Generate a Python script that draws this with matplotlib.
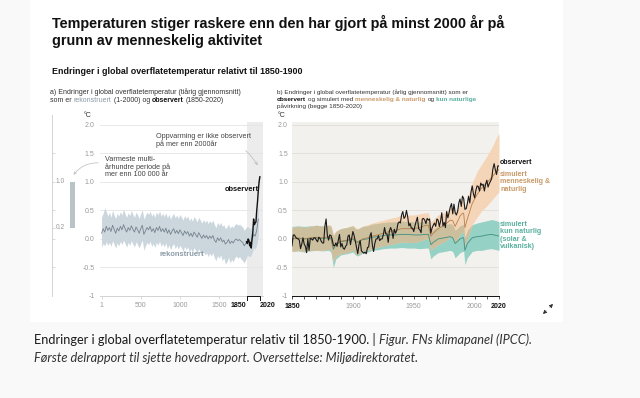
import matplotlib.pyplot as plt
from matplotlib.patches import Rectangle, FancyArrowPatch
import numpy as np

plt.rcParams['font.family'] = ['Liberation Sans', 'DejaVu Sans']

# ---------------- data ----------------
# panel a: reconstructed (20-year steps) + observed decadal
rec_years = np.arange(0, 2001, 20)
rec_mid = [0.10, 0.18, 0.12, 0.22, 0.15, 0.20, 0.13, 0.24, 0.17, 0.10,
           0.19, 0.14, 0.22, 0.16, 0.25, 0.18, 0.12, 0.20, 0.15, 0.23,
           0.17, 0.12, 0.21, 0.16, 0.10, 0.18, 0.24, 0.08, 0.14, 0.20,
           0.16, 0.22, 0.13, 0.18, 0.11, 0.20, 0.15, 0.22, 0.13, 0.18,
           0.12, 0.19, 0.10, 0.16, 0.08, 0.14, 0.18, 0.10, 0.15, 0.09,
           0.16, 0.11, 0.06, 0.14, 0.09, 0.13, 0.05, 0.10, 0.04, 0.12,
           0.08, 0.03, 0.11, 0.06, 0.01, 0.07, 0.02, 0.06, 0.00, 0.05,
           0.01, 0.06, -0.02, -0.06, 0.02, -0.03, 0.02, -0.05, -0.02, -0.09,
           -0.06, -0.01, -0.08, -0.04, -0.07, -0.02, 0.00, -0.03, -0.01, -0.04,
           -0.06, -0.12, -0.08, -0.03, -0.05, -0.08, -0.02, 0.08, 0.05, 0.15, 0.35]
rec_hi = [0.38, 0.45, 0.55, 0.48, 0.40, 0.47, 0.38, 0.50, 0.42, 0.36,
          0.45, 0.40, 0.48, 0.42, 0.52, 0.44, 0.38, 0.46, 0.41, 0.50,
          0.43, 0.38, 0.47, 0.42, 0.36, 0.45, 0.51, 0.35, 0.41, 0.47,
          0.43, 0.49, 0.40, 0.45, 0.38, 0.47, 0.42, 0.49, 0.40, 0.45,
          0.39, 0.46, 0.37, 0.43, 0.35, 0.41, 0.45, 0.37, 0.42, 0.36,
          0.43, 0.38, 0.33, 0.41, 0.36, 0.40, 0.32, 0.37, 0.31, 0.39,
          0.35, 0.30, 0.38, 0.33, 0.28, 0.34, 0.29, 0.33, 0.27, 0.32,
          0.28, 0.33, 0.25, 0.20, 0.29, 0.24, 0.29, 0.22, 0.25, 0.18,
          0.21, 0.26, 0.19, 0.23, 0.20, 0.25, 0.27, 0.24, 0.26, 0.23,
          0.21, 0.15, 0.19, 0.22, 0.20, 0.17, 0.23, 0.33, 0.30, 0.42, 0.60]
rec_lo = [-0.15, -0.08, -0.12, -0.05, -0.11, -0.06, -0.13, -0.03, -0.09, -0.16,
          -0.07, -0.12, -0.04, -0.10, -0.02, -0.08, -0.14, -0.06, -0.11, -0.03,
          -0.09, -0.14, -0.05, -0.10, -0.16, -0.08, -0.02, -0.20, -0.12, -0.06,
          -0.10, -0.04, -0.13, -0.08, -0.15, -0.06, -0.11, -0.04, -0.13, -0.08,
          -0.14, -0.07, -0.17, -0.10, -0.19, -0.12, -0.08, -0.17, -0.11, -0.18,
          -0.11, -0.16, -0.22, -0.13, -0.19, -0.14, -0.23, -0.17, -0.24, -0.15,
          -0.20, -0.26, -0.17, -0.23, -0.29, -0.22, -0.28, -0.24, -0.31, -0.25,
          -0.30, -0.24, -0.33, -0.38, -0.29, -0.34, -0.28, -0.38, -0.33, -0.44,
          -0.40, -0.32, -0.42, -0.36, -0.40, -0.33, -0.30, -0.34, -0.31, -0.35,
          -0.38, -0.42, -0.36, -0.29, -0.30, -0.31, -0.25, -0.15, -0.18, -0.10, 0.05]
obs_dec_years = [1850, 1860, 1870, 1880, 1890, 1900, 1910, 1920, 1930, 1940,
                 1950, 1960, 1970, 1980, 1990, 2000, 2010, 2020]
obs_dec = [-0.05, -0.08, 0.0, -0.02, -0.12, -0.06, -0.16, 0.0, 0.12, 0.35,
           0.25, 0.28, 0.30, 0.50, 0.65, 0.85, 1.0, 1.09]
warm_period = (0.2, 1.0)

# panel b: observed annual 1850-2020
obs_years = np.arange(1850, 2021)
obs = [-0.12, 0.07, 0.07, 0.03, 0.01, 0.00, -0.02, -0.17, -0.09, 0.02,
       -0.09, -0.13, -0.24, 0.00, -0.20, 0.01, 0.00, -0.02, 0.02, 0.02,
       -0.02, -0.05, 0.03, 0.01, -0.04, -0.07, -0.07, 0.22, 0.35, 0.07,
       -0.02, 0.07, 0.06, -0.01, -0.11, -0.12, -0.07, -0.13, -0.02, 0.08,
       -0.14, -0.08, -0.16, -0.18, -0.13, -0.10, 0.05, 0.07, -0.10, 0.01,
       0.13, 0.06, -0.04, -0.15, -0.26, -0.10, -0.03, -0.21, -0.23, -0.25,
       -0.23, -0.26, -0.15, -0.14, 0.05, 0.11, -0.11, -0.22, -0.08, 0.00,
       0.00, 0.06, -0.03, 0.00, 0.00, 0.07, 0.20, 0.09, 0.09, -0.06,
       0.14, 0.20, 0.14, 0.01, 0.17, 0.10, 0.15, 0.27, 0.30, 0.28,
       0.42, 0.48, 0.36, 0.39, 0.50, 0.39, 0.23, 0.27, 0.19, 0.19,
       0.13, 0.23, 0.31, 0.38, 0.18, 0.16, 0.11, 0.35, 0.36, 0.33,
       0.27, 0.36, 0.33, 0.35, 0.10, 0.19, 0.24, 0.28, 0.22, 0.35,
       0.33, 0.22, 0.31, 0.46, 0.23, 0.29, 0.20, 0.48, 0.37, 0.46,
       0.56, 0.62, 0.44, 0.61, 0.46, 0.42, 0.48, 0.63, 0.70, 0.57,
       0.75, 0.71, 0.52, 0.53, 0.62, 0.75, 0.63, 0.82, 0.93, 0.79,
       0.72, 0.85, 0.93, 0.92, 0.84, 0.98, 0.94, 0.96, 0.84, 0.96,
       1.03, 0.91, 0.97, 1.01, 1.06, 1.23, 1.32, 1.21, 1.13, 1.28, 1.28]

# panel b: simulated runs (human & natural / natural only)
sim_years = [1850, 1855, 1860, 1865, 1870, 1875, 1880, 1882, 1884, 1886,
             1890, 1895, 1900, 1902, 1904, 1908, 1912, 1916, 1920, 1925,
             1930, 1935, 1940, 1945, 1950, 1955, 1960, 1962, 1964, 1966,
             1970, 1975, 1980, 1982, 1984, 1988, 1990, 1991, 1992, 1994,
             1998, 2002, 2006, 2010, 2014, 2018, 2020]
hum_mid = [0.00, 0.02, 0.00, 0.02, 0.03, 0.02, 0.04, 0.02, -0.15, -0.08,
           -0.04, -0.02, 0.02, -0.03, -0.05, 0.00, 0.02, 0.05, 0.07, 0.10,
           0.13, 0.15, 0.18, 0.18, 0.18, 0.20, 0.24, 0.24, 0.05, 0.10,
           0.18, 0.24, 0.33, 0.32, 0.22, 0.40, 0.45, 0.45, 0.20, 0.35,
           0.62, 0.78, 0.90, 0.98, 1.08, 1.18, 1.22]
hum_lo = [-0.22, -0.20, -0.22, -0.20, -0.20, -0.20, -0.18, -0.20, -0.40, -0.30,
          -0.26, -0.24, -0.20, -0.25, -0.28, -0.22, -0.20, -0.17, -0.15, -0.12,
          -0.10, -0.08, -0.05, -0.06, -0.06, -0.04, 0.00, 0.00, -0.20, -0.16,
          -0.10, -0.05, 0.04, 0.02, -0.08, 0.08, 0.12, 0.12, -0.12, 0.00,
          0.25, 0.38, 0.50, 0.58, 0.68, 0.78, 0.82]
hum_hi = [0.20, 0.22, 0.20, 0.22, 0.24, 0.22, 0.25, 0.24, 0.08, 0.14,
          0.18, 0.20, 0.24, 0.20, 0.18, 0.22, 0.25, 0.28, 0.30, 0.33,
          0.36, 0.38, 0.42, 0.42, 0.42, 0.44, 0.46, 0.46, 0.30, 0.34,
          0.42, 0.46, 0.55, 0.55, 0.48, 0.62, 0.72, 0.72, 0.52, 0.70,
          0.98, 1.18, 1.32, 1.45, 1.60, 1.78, 1.85]
nat_mid = [0.00, 0.01, 0.00, 0.01, 0.02, 0.01, 0.02, 0.00, -0.18, -0.10,
           -0.05, -0.03, 0.00, -0.05, -0.06, -0.01, 0.00, 0.03, 0.04, 0.06,
           0.07, 0.07, 0.08, 0.08, 0.07, 0.07, 0.08, 0.08, -0.10, -0.06,
           0.00, 0.02, 0.04, 0.02, -0.08, 0.00, 0.02, 0.02, -0.20, -0.08,
           0.02, 0.04, 0.05, 0.07, 0.08, 0.06, 0.05]
nat_lo = [-0.22, -0.21, -0.23, -0.21, -0.20, -0.21, -0.20, -0.23, -0.50, -0.35,
          -0.28, -0.26, -0.23, -0.28, -0.30, -0.25, -0.23, -0.20, -0.19, -0.17,
          -0.16, -0.16, -0.15, -0.16, -0.16, -0.17, -0.16, -0.16, -0.35, -0.30,
          -0.24, -0.22, -0.20, -0.22, -0.33, -0.24, -0.22, -0.22, -0.45, -0.33,
          -0.22, -0.20, -0.20, -0.18, -0.17, -0.19, -0.20]
nat_hi = [0.22, 0.23, 0.22, 0.23, 0.24, 0.23, 0.24, 0.22, 0.05, 0.13,
          0.18, 0.20, 0.23, 0.18, 0.17, 0.22, 0.23, 0.26, 0.27, 0.29,
          0.30, 0.30, 0.31, 0.31, 0.30, 0.30, 0.31, 0.31, 0.13, 0.17,
          0.23, 0.25, 0.27, 0.25, 0.15, 0.23, 0.25, 0.25, 0.03, 0.15,
          0.25, 0.28, 0.30, 0.32, 0.34, 0.32, 0.30]

ytick_vals = [-1, -0.5, 0, 0.5, 1, 1.5, 2]
ytick_text = ['-1', '-0.5', '0.0', '0.5', '1.0', '1.5', '2.0']

# ---------------- layout helpers ----------------
W, H = 640, 398
GRAY = '#9a9a9a'
TAN = '#c99a68'
TEAL = '#5aaf9f'


def box(x0, y0, x1, y1):
    return [x0 / W, 1 - y1 / H, (x1 - x0) / W, (y1 - y0) / H]


fig = plt.figure(figsize=(6.4, 3.98), dpi=100, facecolor='#f9f9f9')
fig.patches.append(Rectangle((30 / W, 1 - 322 / H), 533 / W, 322 / H,
                             transform=fig.transFigure, facecolor='white',
                             edgecolor='none', zorder=-5))
renderer = fig.canvas.get_renderer()


def ftext(x, y, s, **kw):
    return fig.text(x / W, 1 - y / H, s, **kw)


def multi(x, y, parts, size):
    # parts: (text, colour, weight); words joined with one space
    space = size * 100 / 72 * 0.3
    for s, c, w in parts:
        t = ftext(x, y, s, color=c, fontsize=size, fontweight=w, va='center')
        x += t.get_window_extent(renderer).width + space


# titles
ftext(52, 23, 'Temperaturen stiger raskere enn den har gjort på minst 2000 år på',
      fontsize=10.4, fontweight='bold', color='#111111', va='center')
ftext(52, 41, 'grunn av menneskelig aktivitet',
      fontsize=10.4, fontweight='bold', color='#111111', va='center')
ftext(52, 72, 'Endringer i global overflatetemperatur relativt til 1850-1900',
      fontsize=6.4, fontweight='bold', color='#111111', va='center')

fa = 5.0
ftext(50, 92, 'a) Endringer i global overflatetemperatur (tiårig gjennomsnitt)',
      fontsize=fa, color='#333333', va='center')
multi(50, 100, [('som er', '#333333', 'normal'), ('rekonstruert', '#8b9ba6', 'normal'),
                ('(1-2000) og', '#333333', 'normal'), ('observert', '#111111', 'bold'),
                ('(1850-2020)', '#333333', 'normal')], fa)
fb = 4.6
ftext(277, 92.5, 'b) Endringer i global overflatetemperatur (årlig gjennomsnitt) som er',
      fontsize=fb, color='#333333', va='center')
multi(277, 99.5, [('observert', '#111111', 'bold'), ('og simulert med', '#333333', 'normal'),
                  ('menneskelig & naturlig', TAN, 'bold'), ('og', '#333333', 'normal'),
                  ('kun naturlige', TEAL, 'bold')], fb)
ftext(277, 106.5, 'påvirkning (begge 1850-2020)', fontsize=fb, color='#333333', va='center')

# ---------------- panel a ----------------
ylim = (-1, 2.05)
lab = 5.0
axa = fig.add_axes(box(100, 122, 263, 296))
axa.set_xlim(-20, 2060)
axa.set_ylim(*ylim)
axa.axvspan(1850, 2060, color='#ececec', lw=0, zorder=0)
for v in ytick_vals[1:]:
    axa.axhline(v, color='#e4e4e4', lw=0.6, zorder=0.5)
axa.fill_between(rec_years, rec_lo, rec_hi, color='#ccd6dd', lw=0, zorder=1)
axa.plot(rec_years, rec_mid, color='#74838e', lw=0.6, zorder=2)
axa.plot(obs_dec_years, obs_dec, color='#111111', lw=1.0, zorder=3)
for s in ['top', 'right', 'left']:
    axa.spines[s].set_visible(False)
axa.spines['bottom'].set_color('#cccccc')
axa.spines['bottom'].set_linewidth(0.6)
axa.set_yticks(ytick_vals, ytick_text)
axa.tick_params(axis='y', length=0, labelsize=lab, labelcolor=GRAY, pad=4)
axa.set_xticks([1, 500, 1000, 1500, 1850, 2020], ['1', '500', '1000', '1500', '1850', '2020'])
axa.tick_params(axis='x', length=2, width=0.5, color='#cccccc', labelsize=lab,
                labelcolor=GRAY, pad=2.5)
xl = axa.get_xticklabels()
for t, ha in ((xl[4], 'right'), (xl[5], 'left')):
    t.set_color('#111111')
    t.set_fontweight('bold')
    t.set_ha(ha)
axa.plot([1850, 1850, 2020, 2020], [-1.07, -1, -1, -1.07], color='#111111', lw=0.7,
         clip_on=False, zorder=4)
axa.text(-0.05, 1.02, '°C', transform=axa.transAxes, fontsize=lab, color='#333333',
         ha='right', va='bottom')
axa.text(2010, 0.86, 'observert', fontsize=5.4, fontweight='bold', color='#111111',
         ha='right', va='center')
axa.text(735, -0.28, 'rekonstruert', fontsize=5.4, fontweight='bold', color='#8b9ba6',
         ha='left', va='center')
axa.annotate('Oppvarming er ikke observert\npå mer enn 2000år', xy=(2000, 1.27),
             xytext=(690, 1.73), fontsize=5.2, color='#444444', va='center',
             linespacing=1.05,
             arrowprops=dict(arrowstyle='->', color='#bbbbbb', lw=0.5,
                             connectionstyle='arc3,rad=-0.35', shrinkA=48, shrinkB=1))
axa.text(45, 1.26, 'Varmeste multi-\nårhundre periode på\nmer enn 100 000 år',
         fontsize=5.2, color='#444444', va='center', linespacing=1.05)

# small left axis with the warm-period bar
axl = fig.add_axes(box(52, 115, 82, 296))
axl.set_xlim(0, 1)
axl.set_ylim(-1, 2.175)
axl.patch.set_alpha(0)
for s in ['top', 'right', 'bottom']:
    axl.spines[s].set_visible(False)
axl.spines['left'].set_color('#cccccc')
axl.spines['left'].set_linewidth(0.6)
axl.set_xticks([])
axl.set_yticks([-0.5, 0, 0.2, 0.5, 1.0, 1.5])
axl.tick_params(axis='y', direction='in', length=2, width=0.5, color='#cccccc',
                labelleft=False)
axl.bar(0.6, warm_period[1] - warm_period[0], bottom=warm_period[0], width=0.17,
        color='#b9c4c6', lw=0, align='edge')
axl.text(0.12, warm_period[1], '1.0', fontsize=4.8, color=GRAY, va='center')
axl.text(0.12, warm_period[0], '0.2', fontsize=4.8, color=GRAY, va='center')
fig.add_artist(FancyArrowPatch((101 / W, 1 - 163 / H), (72 / W, 1 - 177 / H),
                               transform=fig.transFigure, arrowstyle='->',
                               mutation_scale=4, color='#bbbbbb', lw=0.5,
                               connectionstyle='arc3,rad=0.3'))

# ---------------- panel b ----------------
axb = fig.add_axes(box(292, 122, 499, 296))
axb.set_xlim(1850, 2020)
axb.set_ylim(*ylim)
axb.set_facecolor('#f3f1ee')
for v in ytick_vals[1:]:
    axb.axhline(v, color='#e0ddd8', lw=0.6, zorder=0.5)
ov_lo = np.maximum(hum_lo, nat_lo)
ov_hi = np.minimum(hum_hi, nat_hi)
axb.fill_between(sim_years, nat_lo, nat_hi, color='#95d1c5', lw=0, zorder=1)
axb.fill_between(sim_years, hum_lo, hum_hi, color='#f5d5b7', lw=0, zorder=2)
axb.fill_between(sim_years, ov_lo, ov_hi, where=ov_hi > ov_lo, interpolate=True,
                 color='#cbbf9e', lw=0, zorder=2.5)
axb.plot(sim_years, nat_mid, color='#3f8f80', lw=0.6, zorder=3)
axb.plot(sim_years, hum_mid, color='#b7804c', lw=0.6, zorder=3)
axb.plot(obs_years, obs, color='#1a1a1a', lw=0.8, zorder=4)
for s in ['top', 'right', 'left']:
    axb.spines[s].set_visible(False)
axb.spines['bottom'].set_color('#111111')
axb.spines['bottom'].set_linewidth(0.7)
axb.set_yticks(ytick_vals, ytick_text)
axb.tick_params(axis='y', length=0, labelsize=lab, labelcolor=GRAY, pad=3)
axb.set_xticks(np.arange(1850, 2021, 10), minor=True)
axb.set_xticks([1850, 1900, 1950, 2000, 2020], ['1850', '1900', '1950', '2000', '2020'])
axb.tick_params(axis='x', which='both', length=2.5, width=0.5, color='#111111',
                labelsize=lab, labelcolor=GRAY, pad=2.5)
for i in (0, 4):
    axb.get_xticklabels()[i].set_color('#111111')
    axb.get_xticklabels()[i].set_fontweight('bold')
axb.text(-0.03, 1.02, '°C', transform=axb.transAxes, fontsize=lab, color='#333333',
         ha='right', va='bottom')
rl = 5.1
axb.text(2021, 1.34, 'observert', fontsize=rl, fontweight='bold', color='#111111',
         va='center')
axb.text(2021, 1.0, 'simulert\nmenneskelig &\nnaturlig', fontsize=rl,
         fontweight='bold', color=TAN, va='center', linespacing=1.05)
axb.text(2021, 0.06, 'simulert\nkun naturlig\n(solar &\nvulkanisk)', fontsize=rl,
         fontweight='bold', color=TEAL, va='center', linespacing=1.05)

# expand icon
for end in [(555, 302), (541, 316)]:
    fig.add_artist(FancyArrowPatch((548 / W, 1 - 309 / H), (end[0] / W, 1 - end[1] / H),
                                   transform=fig.transFigure, arrowstyle='->',
                                   mutation_scale=5, color='#222222', lw=0.7))

# caption
cap = ['Endringer i global overflatetemperatur relativ til 1850-1900. |',
       'Figur. FNs klimapanel (IPCC).',
       'Første delrapport til sjette hovedrapport. Oversettelse: Miljødirektoratet.']
t = ftext(34, 340, cap[0], fontsize=9.2, color='#1a1a1a', va='center', family='Lato')
x2 = 34 + t.get_window_extent(renderer).width + 3
ftext(x2, 340, cap[1], fontsize=9.2, color='#333333', va='center', style='italic',
      family='Lato')
ftext(34, 358, cap[2], fontsize=9.2, color='#333333', va='center', style='italic',
      family='Lato')

fig.savefig('out.png', dpi=100, facecolor=fig.get_facecolor())
